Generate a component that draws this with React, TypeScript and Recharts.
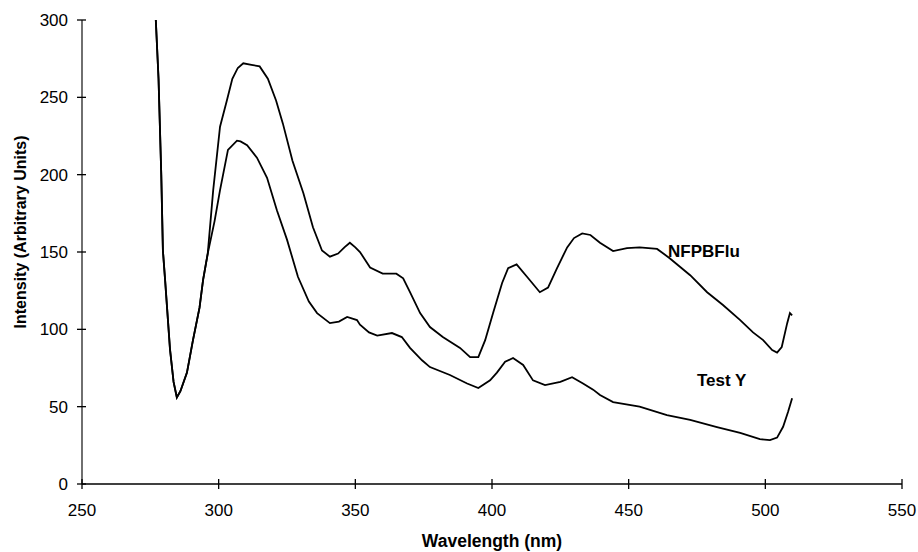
import React from 'react';
import { LineChart, Line, XAxis, YAxis } from 'recharts';

// NFPBFlu spectrum
const nfpWavelength = [
  277, 278, 279, 279.6, 280.4, 282.2, 283.5, 284.7, 286, 288.4, 290.6, 293, 294.3, 296, 298,
  300.5, 303, 305, 307, 309, 312, 315, 318, 321, 323.5, 327, 331, 334.5, 337.8, 340.7,
  343.7, 346, 348, 350, 351.7, 355.4, 360, 365, 367.5, 370, 373.7, 377.3, 382, 388.3, 392,
  395, 397.5, 400.4, 403.7, 405.9, 409, 412.8, 417.5, 420.5, 423.8, 427.5, 430, 433, 436,
  439.5, 444.3, 449.4, 454, 460.4, 465, 472.5, 478.7, 484.5, 490.8, 495.5, 499.2, 502.5,
  504.3, 506, 508, 509, 509.8,
];
const nfpIntensity = [
  300, 262, 200, 151, 132, 87, 66, 56, 60, 72, 93, 114, 132, 149, 190,
  231, 248, 262, 269, 272, 271, 270, 262, 248, 233, 209, 188, 166, 151, 147,
  149, 153, 156, 153, 150, 140, 136, 136, 133, 124, 110.5, 101.5, 95, 88, 82,
  82, 93, 110.5, 130, 139.6, 142, 134, 124, 127, 139.6, 153, 159, 162, 161,
  156, 150.6, 152.5, 153, 152, 146, 135, 124, 115.7, 106, 98, 93, 86.6,
  85, 88.6, 104, 110.5, 109,
];

// Test Y spectrum
const testWavelength = [
  277, 278, 279, 279.6, 280.4, 282.2, 283.5, 284.7, 286, 288.4, 290.6, 293, 294.3, 296,
  298.5, 300.5, 303.4, 306.7, 308, 310.4, 314, 317.7, 321.3, 325, 329, 333, 336, 340.7,
  344, 347, 350.6, 351.7, 355, 358, 363.4, 367, 370, 374.4, 377.3, 384.6, 390.9, 395,
  399.3, 401.8, 404.8, 407.7, 411.4, 415, 419.4, 425, 429.3, 433.3, 437, 439.5, 444.3,
  454, 464, 472.5, 482.3, 490.8, 498, 501.7, 504.3, 506.5, 508.3, 509.8,
];
const testIntensity = [
  300, 262, 200, 151, 132, 87, 66, 56, 60, 72, 93, 114, 132, 149,
  170, 190, 216, 222, 221.5, 219, 211, 198, 177, 158, 134, 118, 110.5, 104,
  105, 108, 106, 103, 98, 96, 97.6, 95, 88, 80, 75.6, 70.5, 65, 62,
  67, 72, 79, 81.5, 77, 67, 64, 66, 69, 65, 61, 57.5, 53,
  50, 44.6, 41.4, 36.8, 33, 29, 28.4, 30, 37, 46.5, 55.5,
];

const xTicks = [250, 300, 350, 400, 450, 500, 550];
const yTicks = [0, 50, 100, 150, 200, 250, 300];

const nfpData = nfpWavelength.map((x, i) => ({ x, y: nfpIntensity[i] }));
const testData = testWavelength.map((x, i) => ({ x, y: testIntensity[i] }));

const FONT = '"Liberation Sans", Arial, Helvetica, sans-serif';

const YTick = (props: any) => {
  const { x, y, payload } = props;
  return (
    <g>
      <line x1={x - 5} x2={x + 4} y1={y} y2={y} stroke="#000" strokeWidth={1.3} />
      <text x={x - 14} y={y + 6} textAnchor="end" fontSize={17} fontFamily={FONT} fill="#000">
        {payload.value}
      </text>
    </g>
  );
};

const XTick = (props: any) => {
  const { x, y, payload } = props;
  return (
    <g>
      <line x1={x} x2={x} y1={y - 5} y2={y + 5} stroke="#000" strokeWidth={1.3} />
      <text x={x} y={y + 32} textAnchor="middle" fontSize={17} fontFamily={FONT} fill="#000">
        {payload.value}
      </text>
    </g>
  );
};

export default function App() {
  return (
    <div style={{ position: 'absolute', left: 0, top: 0, width: 918, height: 552, background: '#fff' }}>
      <LineChart width={918} height={552} margin={{ top: 20, right: 16, bottom: 0, left: 0 }}>
        <XAxis
          type="number"
          dataKey="x"
          domain={[250, 550]}
          ticks={xTicks}
          allowDataOverflow
          height={68}
          tickSize={0}
          tickMargin={0}
          tickLine={false}
          axisLine={{ stroke: '#000', strokeWidth: 1.5 }}
          tick={<XTick />}
          interval={0}
        />
        <YAxis
          type="number"
          dataKey="y"
          domain={[0, 300]}
          ticks={yTicks}
          allowDataOverflow
          width={82}
          tickSize={0}
          tickMargin={0}
          tickLine={false}
          axisLine={{ stroke: '#222', strokeWidth: 1.3 }}
          tick={<YTick />}
          interval={0}
        />
        <Line
          data={nfpData}
          dataKey="y"
          type="linear"
          stroke="#000"
          strokeWidth={1.8}
          dot={false}
          isAnimationActive={false}
        />
        <Line
          data={testData}
          dataKey="y"
          type="linear"
          stroke="#000"
          strokeWidth={1.8}
          dot={false}
          isAnimationActive={false}
        />
        <text x={668} y={257} fontSize={17} fontWeight="bold" fontFamily={FONT} fill="#000">NFPBFlu</text>
        <text x={697} y={386} fontSize={17} fontWeight="bold" fontFamily={FONT} fill="#000">Test Y</text>
        <text x={492} y={547} textAnchor="middle" fontSize={17.5} fontWeight="bold" fontFamily={FONT} fill="#000">
          Wavelength (nm)
        </text>
        <text
          x={0}
          y={0}
          transform="translate(26, 232) rotate(-90)"
          textAnchor="middle"
          fontSize={16}
          fontWeight="bold"
          fontFamily={FONT}
          fill="#000"
        >
          Intensity (Arbitrary Units)
        </text>
      </LineChart>
    </div>
  );
}
